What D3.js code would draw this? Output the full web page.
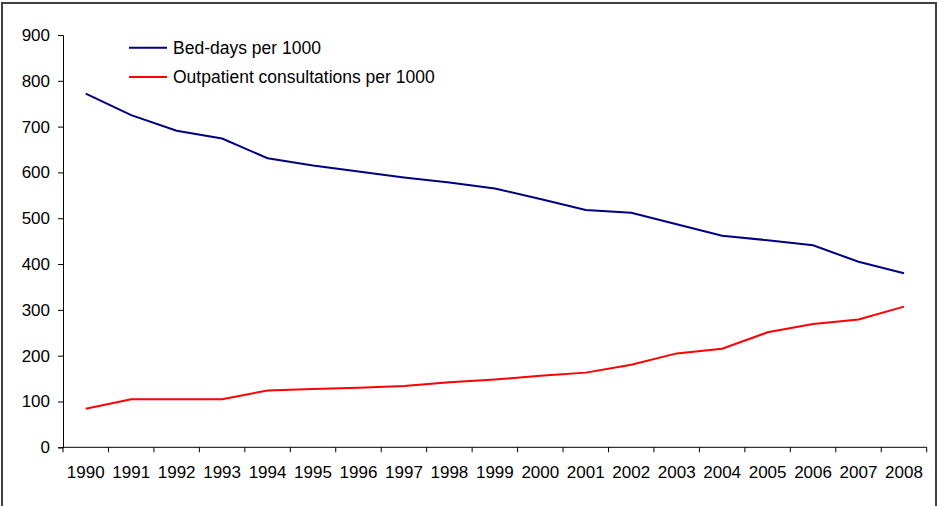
<!DOCTYPE html>
<html>
<head>
<meta charset="utf-8">
<script src="https://cdn.jsdelivr.net/npm/d3@7"></script>
<style>
  body { margin: 0; background: #fff; }
  svg { font-family: "Liberation Sans", Arial, sans-serif; }
</style>
</head>
<body>
<svg id="mainsvg" width="938" height="506"></svg>
<script>
const years = ["1990","1991","1992","1993","1994","1995","1996","1997","1998","1999",
               "2000","2001","2002","2003","2004","2005","2006","2007","2008"]
const bedDays = [772, 725, 691, 674, 631, 615, 602, 589, 578, 565, 542, 518, 512, 487, 462, 452, 441, 405, 380]
const outpatient = [84, 105, 105, 105, 124, 127, 130, 134, 142, 148, 156, 163, 180, 205, 215, 251, 269, 279, 307]
const yTicks = [0, 100, 200, 300, 400, 500, 600, 700, 800, 900]
const seriesNames = ["Bed-days per 1000", "Outpatient consultations per 1000"]
const seriesColors = ["#000080", "#ff0000"]

const svg = d3.select('#mainsvg')

// 外框
svg.append("rect")
  .attr("x", 2).attr("y", 3)
  .attr("width", 934).attr("height", 510)
  .attr("fill", "none")
  .attr("stroke", "#404040")
  .attr("stroke-width", 2)

// 比例尺
const xScale = d3.scaleBand()
  .domain(years)
  .range([63, 926.7])
  .padding(0)

const yScale = d3.scaleLinear()
  .domain([0, 900])
  .range([447.3, 35])

const g = svg.append("g")

// y轴
const yAxis = d3.axisLeft(yScale).tickValues(yTicks).tickSize(5).tickPadding(8)
const yg = g.append("g").attr("transform", "translate(63,0)").call(yAxis)
yg.select(".domain").attr("stroke", "#000")
yg.selectAll(".tick line").attr("stroke", "#000")
yg.selectAll(".tick text").attr("font-size", "17px").attr("fill", "#000")
  .attr("font-family", "Liberation Sans, Arial, sans-serif")

// x轴 (标签在中间, 刻度在分界处)
const xAxis = d3.axisBottom(xScale).tickSize(0).tickPadding(19)
const xg = g.append("g").attr("transform", `translate(0,${yScale(0)})`).call(xAxis)
xg.select(".domain").remove()
xg.selectAll(".tick text").attr("font-size", "17px").attr("fill", "#000")
  .attr("font-family", "Liberation Sans, Arial, sans-serif")

g.append("line")
  .attr("x1", xScale.range()[0]).attr("x2", xScale.range()[1])
  .attr("y1", yScale(0)).attr("y2", yScale(0))
  .attr("stroke", "#000")

const bounds = years.map(d => xScale(d)).concat([xScale.range()[1]])
g.selectAll(".xtick").data(bounds).join("line")
  .attr("class", "xtick")
  .attr("x1", d => d).attr("x2", d => d)
  .attr("y1", yScale(0)).attr("y2", yScale(0) + 5)
  .attr("stroke", "#000")

// 折线
const line = d3.line()
  .x((d, i) => xScale(years[i]) + xScale.bandwidth() / 2)
  .y(d => yScale(d))

;[bedDays, outpatient].forEach((s, i) => {
  g.append("path")
    .datum(s)
    .attr("d", line)
    .attr("fill", "none")
    .attr("stroke", seriesColors[i])
    .attr("stroke-width", 2)
})

// 图例
seriesNames.forEach((name, i) => {
  const ly = 47.7 + i * 29.3
  g.append("line")
    .attr("x1", 129).attr("x2", 167)
    .attr("y1", ly).attr("y2", ly)
    .attr("stroke", seriesColors[i])
    .attr("stroke-width", 2)
  g.append("text").text(name)
    .attr("x", 173).attr("y", ly)
    .attr("dy", "0.35em")
    .attr("font-size", "17.5px")
    .attr("fill", "#000")
})
</script>
</body>
</html>
